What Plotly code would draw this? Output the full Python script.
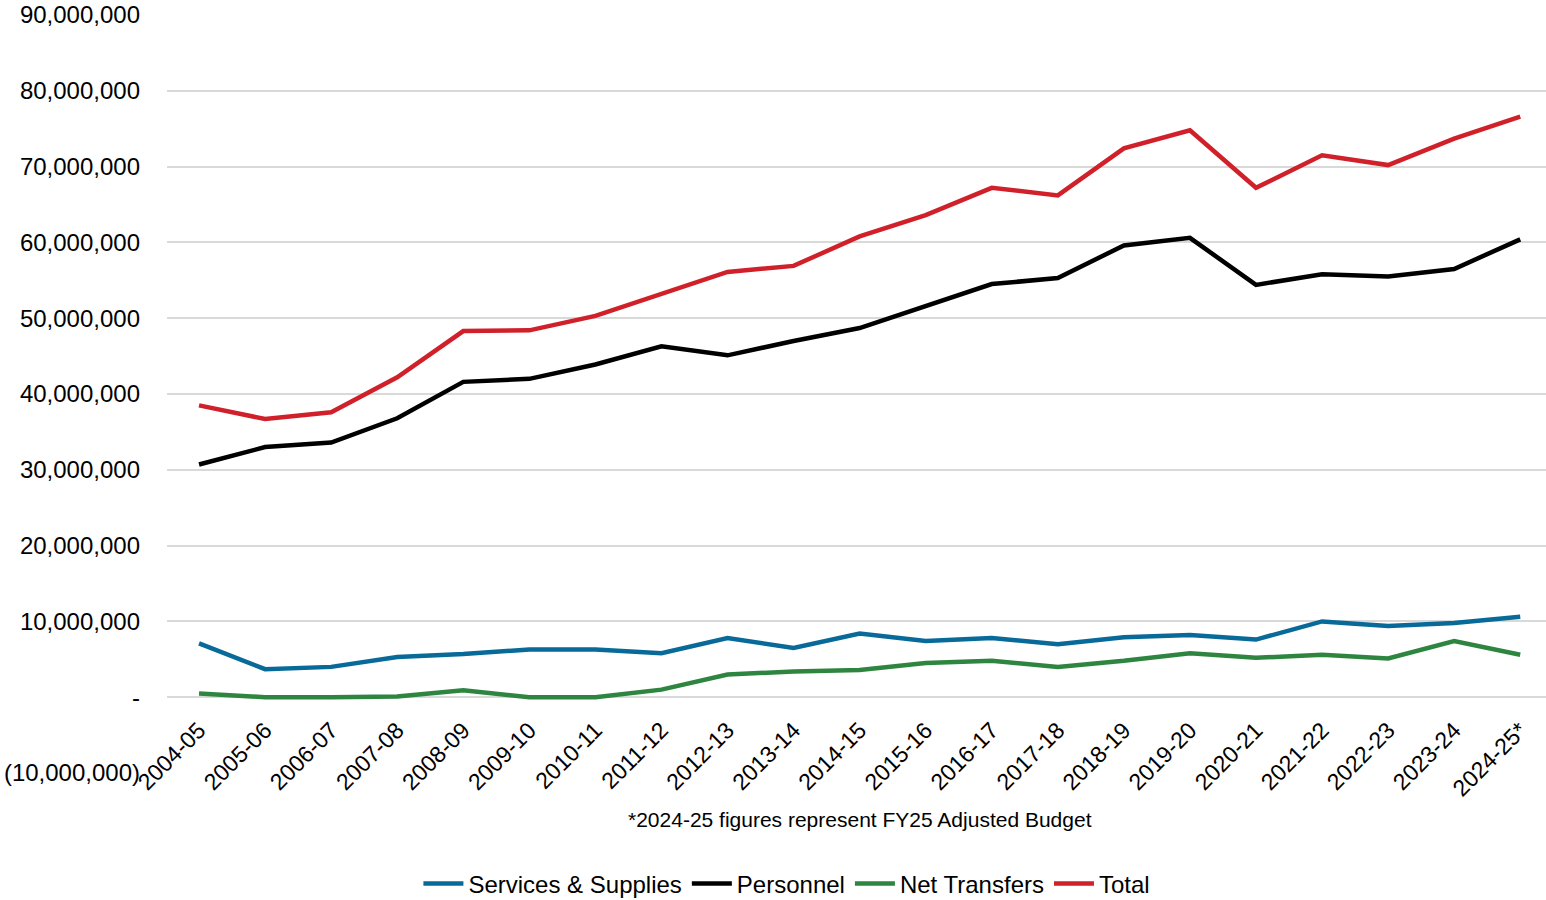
import plotly.graph_objects as go

# Fiscal years on the category axis
years = ["2004-05", "2005-06", "2006-07", "2007-08", "2008-09", "2009-10", "2010-11",
         "2011-12", "2012-13", "2013-14", "2014-15", "2015-16", "2016-17", "2017-18",
         "2018-19", "2019-20", "2020-21", "2021-22", "2022-23", "2023-24", "2024-25*"]

# Expenditure series (dollars)
services_supplies = [7.1e6, 3.7e6, 4.0e6, 5.3e6, 5.7e6, 6.3e6, 6.3e6, 5.8e6, 7.8e6, 6.5e6,
                     8.4e6, 7.4e6, 7.8e6, 7.0e6, 7.9e6, 8.2e6, 7.6e6, 10.0e6, 9.4e6, 9.8e6, 10.6e6]
personnel = [30.7e6, 33.0e6, 33.6e6, 36.8e6, 41.6e6, 42.0e6, 43.9e6, 46.3e6, 45.1e6, 47.0e6,
             48.7e6, 51.6e6, 54.5e6, 55.3e6, 59.6e6, 60.6e6, 54.4e6, 55.8e6, 55.5e6, 56.5e6, 60.4e6]
net_transfers = [0.5e6, 0.0, 0.0, 0.1e6, 0.9e6, 0.0, 0.0, 1.0e6, 3.0e6, 3.4e6,
                 3.6e6, 4.5e6, 4.8e6, 4.0e6, 4.8e6, 5.8e6, 5.2e6, 5.6e6, 5.1e6, 7.4e6, 5.6e6]
total = [38.5e6, 36.7e6, 37.6e6, 42.2e6, 48.3e6, 48.4e6, 50.3e6, 53.2e6, 56.1e6, 56.9e6,
         60.8e6, 63.6e6, 67.2e6, 66.2e6, 72.4e6, 74.8e6, 67.2e6, 71.5e6, 70.2e6, 73.7e6, 76.6e6]

# Y-axis ticks in accounting format
y_min, y_max = -10e6, 90e6
y_ticks = [-10e6, 0, 10e6, 20e6, 30e6, 40e6, 50e6, 60e6, 70e6, 80e6, 90e6]
y_tick_labels = ["(10,000,000)", "-", "10,000,000", "20,000,000", "30,000,000", "40,000,000",
                 "50,000,000", "60,000,000", "70,000,000", "80,000,000", "90,000,000"]

FONT = "Arial, 'Liberation Sans', sans-serif"

series = [
    ("Services & Supplies", services_supplies, "#086a99"),
    ("Personnel", personnel, "#000000"),
    ("Net Transfers", net_transfers, "#2e8540"),
    ("Total", total, "#d0212b"),
]

fig = go.Figure()
for name, values, color in series:
    fig.add_trace(go.Scatter(
        x=years, y=values, name=name, mode="lines",
        line=dict(color=color, width=4.5),
    ))

fig.update_layout(
    width=1546, height=900,
    margin=dict(l=167, r=0, t=15, b=127, autoexpand=False),
    plot_bgcolor="white", paper_bgcolor="white",
    font=dict(family=FONT, size=20, color="#000000"),
    showlegend=True,
    legend=dict(
        orientation="h",
        xref="container", yref="container",
        x=0.509, y=0.018, xanchor="center", yanchor="middle",
        font=dict(family=FONT, size=24, color="#000000"),
        itemwidth=40, tracegroupgap=0,
    ),
    xaxis=dict(
        type="category",
        range=[-0.485, 20.39],
        tickangle=-45,
        tickfont=dict(family=FONT, size=23, color="#000000"),
        showgrid=False, showline=False, ticks="",
        # category labels sit just under the zero line
        anchor="free", position=(0 - y_min) / (y_max - y_min),
        ticklabelstandoff=14,
        automargin=False,
    ),
    yaxis=dict(
        range=[y_min, y_max],
        tickvals=y_ticks, ticktext=y_tick_labels,
        tickfont=dict(family=FONT, size=24, color="#000000"),
        showgrid=True, gridcolor="#d9d9d9", gridwidth=1.5,
        zeroline=True, zerolinecolor="#d9d9d9", zerolinewidth=1.5,
        showline=False, ticks="",
        ticklabelstandoff=26,
        automargin=False,
    ),
    annotations=[dict(
        text="*2024-25 figures represent FY25 Adjusted Budget",
        xref="paper", yref="paper", x=0.5025, y=-0.0607,
        xanchor="center", yanchor="middle", showarrow=False,
        font=dict(family=FONT, size=21, color="#000000"),
    )],
)

fig.write_html("out.html")
